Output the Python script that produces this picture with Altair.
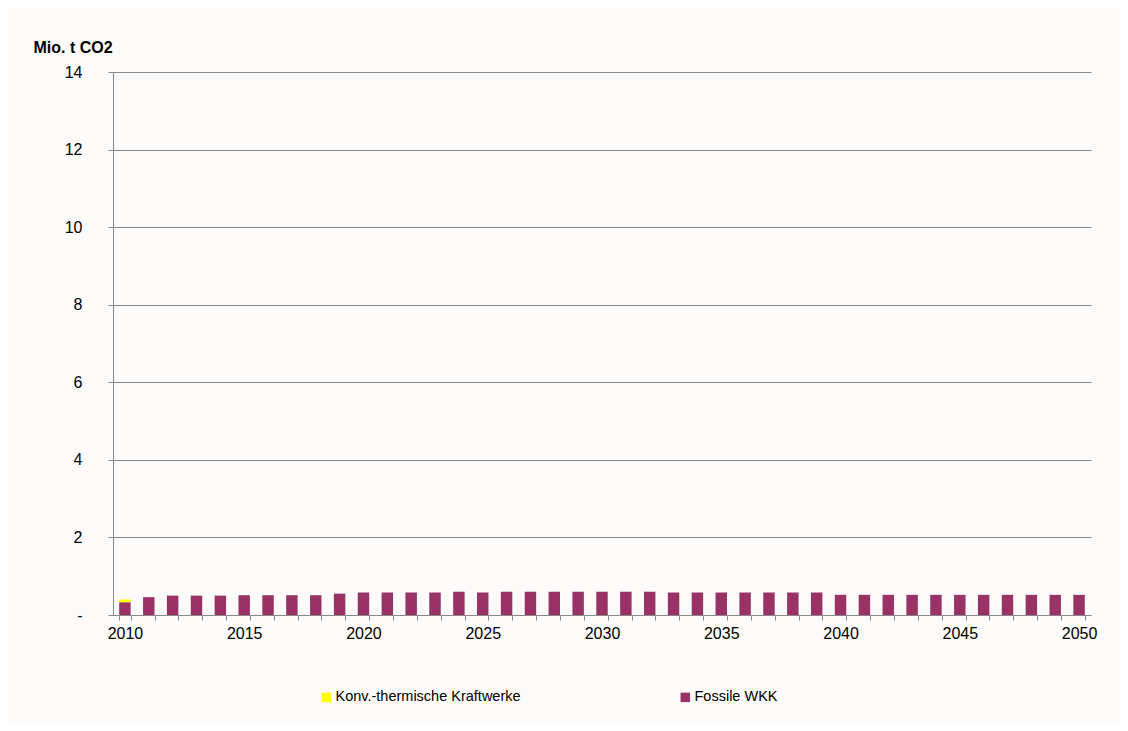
import altair as alt
import pandas as pd

years = list(range(2010, 2051))
fossile_wkk = [0.33, 0.46, 0.50, 0.50, 0.50, 0.51, 0.51, 0.51, 0.51, 0.55,
               0.58, 0.58, 0.58, 0.58, 0.60, 0.58, 0.60, 0.60, 0.60, 0.60,
               0.60, 0.60, 0.60, 0.58, 0.58, 0.58, 0.58, 0.58, 0.58, 0.58,
               0.52, 0.52, 0.52, 0.52, 0.52, 0.52, 0.52, 0.52, 0.52, 0.52,
               0.52]
konv_thermisch = [0.07] + [0.0] * 40
series_names = ["Konv.-thermische Kraftwerke", "Fossile WKK"]
series_colors = ["#ffff00", "#993366"]

rows = []
for i, y in enumerate(years):
    rows.append({"Jahr": y, "Serie": series_names[1], "Wert": fossile_wkk[i], "ord": 0})
    rows.append({"Jahr": y, "Serie": series_names[0], "Wert": konv_thermisch[i], "ord": 1})
df = pd.DataFrame(rows)

FONT = "Liberation Sans"
FS = 16

chart = alt.Chart(df).mark_bar().encode(
    x=alt.X("Jahr:O",
            scale=alt.Scale(paddingInner=0.52, paddingOuter=0.26),
            axis=alt.Axis(title=None, labelAngle=0, tickBand="extent",
                          labelExpr="datum.value % 5 === 0 ? datum.label : ''",
                          domainColor="#888888", tickColor="#888888", tickSize=5,
                          labelPadding=5, labelFontSize=FS, labelColor="#000000",
                          labelFont=FONT, grid=False)),
    y=alt.Y("Wert:Q",
            stack="zero",
            scale=alt.Scale(domain=[0, 14], nice=False),
            axis=alt.Axis(title="Mio. t CO2", titleAngle=0, titleAlign="left",
                          titleBaseline="middle", titleX=-80, titleY=-25,
                          titleFont=FONT, titleFontSize=FS, titleFontWeight="bold",
                          titleColor="#000000",
                          values=list(range(0, 15, 2)),
                          labelExpr="datum.value === 0 ? '-' : datum.label",
                          domainColor="#888888", tickColor="#888888", tickSize=5,
                          gridColor="#888888", gridWidth=1, grid=True,
                          labelPadding=26, labelFontSize=FS, labelColor="#000000",
                          labelFont=FONT)),
    color=alt.Color("Serie:N",
                    scale=alt.Scale(domain=series_names, range=series_colors),
                    legend=alt.Legend(title=None, orient="none", legendX=206,
                                      legendY=618, direction="horizontal",
                                      columns=2, columnPadding=157,
                                      symbolType="square", symbolSize=90,
                                      symbolStrokeWidth=0, symbolOffset=0,
                                      labelOffset=2, labelLimit=0,
                                      labelFont=FONT, labelFontSize=14.5,
                                      labelColor="#000000")),
    order=alt.Order("ord:Q"),
).properties(
    width=978,
    height=543,
    autosize=alt.AutoSizeParams(type="none"),
    padding={"left": 105, "top": 64, "right": 29, "bottom": 108},
    background="#fcfbf9",
).configure_view(
    stroke=None
)

chart.save("out.html", embed_options={"renderer": "svg", "actions": False})
